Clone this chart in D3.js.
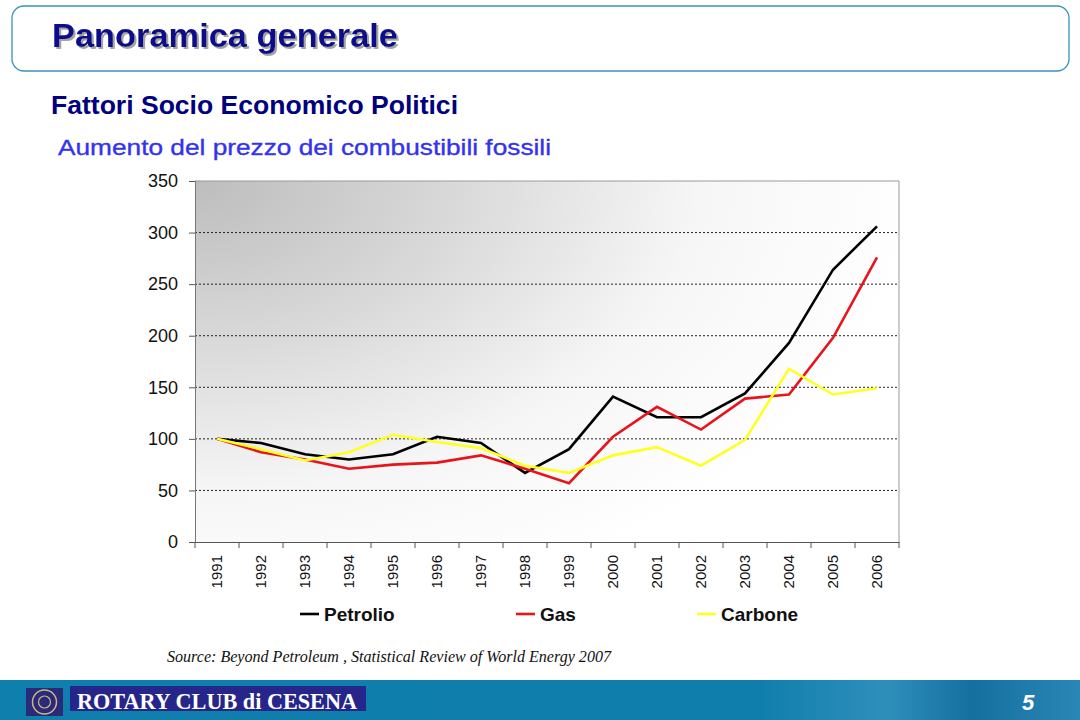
<!DOCTYPE html>
<html><head><meta charset="utf-8">
<script src="https://cdn.jsdelivr.net/npm/d3@7"></script>
<style>html,body{margin:0;padding:0;background:#fff;}svg{display:block;}</style>
</head><body>
<svg id="c" width="1080" height="720"></svg>
<script>
const years = ["1991","1992","1993","1994","1995","1996","1997","1998","1999","2000","2001","2002","2003","2004","2005","2006"];
const petrolio = [100, 96, 85, 80, 85, 102, 96, 67, 90, 141, 121, 121, 144, 193, 264, 306];
const gas      = [100, 87, 80, 71, 75, 77, 84, 71, 57, 102, 131, 109, 139, 143, 198, 276];
const carbone  = [100, 90, 79, 87, 104, 97, 91, 74, 67, 84, 92, 74, 99, 168, 143, 149];
const yTicks = [0, 50, 100, 150, 200, 250, 300, 350];
const seriesNames = ["Petrolio", "Gas", "Carbone"];
const seriesColors = ["#000000", "#e8141c", "#ffff22"];

const svg = d3.select("#c");
const defs = svg.append("defs");
const SANS = "Liberation Sans, Arial, sans-serif";

// header box
svg.append("rect").attr("x",12).attr("y",6).attr("width",1057).attr("height",65)
  .attr("rx",12).attr("fill","#fff").attr("stroke","#3a93b8").attr("stroke-width",1.3);
const f = defs.append("filter").attr("id","sh").attr("x","-5%").attr("y","-20%").attr("width","110%").attr("height","150%");
f.append("feDropShadow").attr("dx",2).attr("dy",2).attr("stdDeviation",0.6).attr("flood-color","#9a9a9a").attr("flood-opacity",0.9);
svg.append("text").attr("x",52).attr("y",47).attr("font-family",SANS)
  .attr("font-weight","bold").attr("font-size",33).attr("fill","#0a0a8a").attr("filter","url(#sh)")
  .attr("textLength",346).attr("lengthAdjust","spacingAndGlyphs")
  .text("Panoramica generale");
svg.append("text").attr("x",51).attr("y",114).attr("font-family",SANS)
  .attr("font-weight","bold").attr("font-size",25).attr("fill","#000080")
  .attr("textLength",407).attr("lengthAdjust","spacingAndGlyphs")
  .text("Fattori Socio Economico Politici");
svg.append("text").attr("x",58).attr("y",155).attr("font-family",SANS)
  .attr("font-size",22).attr("fill","#3333ee").attr("stroke","#3333ee").attr("stroke-width",0.35)
  .attr("textLength",493).attr("lengthAdjust","spacingAndGlyphs")
  .text("Aumento del prezzo dei combustibili fossili");

// chart
const L = 195, R = 899, T = 181, B = 542;
const x = d3.scaleBand().domain(years).range([L, R]);
const y = d3.scaleLinear().domain([0, 350]).range([B, T]);

const rg = defs.append("radialGradient").attr("id","bg").attr("gradientUnits","userSpaceOnUse")
  .attr("cx",L).attr("cy",T).attr("r",720).attr("gradientTransform",`translate(${L},${T}) scale(1,0.62) translate(${-L},${-T})`);
rg.append("stop").attr("offset","0").attr("stop-color","#bdbdbd");
rg.append("stop").attr("offset","0.35").attr("stop-color","#d8d8d8");
rg.append("stop").attr("offset","0.7").attr("stop-color","#f6f6f6");
rg.append("stop").attr("offset","1").attr("stop-color","#ffffff");
svg.append("rect").attr("x",L).attr("y",T).attr("width",R-L).attr("height",B-T).attr("fill","url(#bg)");

// gridlines
svg.append("g").selectAll("line").data(yTicks.filter(d=>d>0 && d<350)).join("line")
  .attr("x1",L).attr("x2",R).attr("y1",d=>y(d)).attr("y2",d=>y(d))
  .attr("stroke","#222").attr("stroke-width",1).attr("stroke-dasharray","2,2");
svg.append("path").attr("d",`M${L},${T}H${R}V${B}`).attr("fill","none").attr("stroke","#999").attr("stroke-width",1);

// y axis
const ya = svg.append("g").attr("transform",`translate(${L},0)`)
  .call(d3.axisLeft(y).tickValues(yTicks).tickSize(6).tickPadding(11));
ya.select(".domain").attr("stroke","#777");
ya.selectAll(".tick line").attr("stroke","#555");
ya.selectAll("text").attr("font-family",SANS).attr("font-size",18).attr("fill","#111");

// x axis
const xa = svg.append("g").attr("transform",`translate(0,${B})`)
  .call(d3.axisBottom(x).tickSize(0).tickPadding(0));
xa.select(".domain").attr("stroke","#555");
xa.selectAll(".tick text").attr("transform","rotate(-90)").attr("text-anchor","end")
  .attr("x",-13).attr("y",0).attr("dy","0.35em")
  .attr("font-family",SANS).attr("font-size",15).attr("fill","#111");
const bounds = years.map(d=>x(d)).concat([R]);
xa.append("g").selectAll("line").data(bounds).join("line")
  .attr("x1",d=>d).attr("x2",d=>d).attr("y1",0).attr("y2",6).attr("stroke","#555");

// lines
const line = d3.line().x((d,i)=>x(years[i]) + x.bandwidth()/2).y(d=>y(d));
[petrolio, gas, carbone].forEach((s,k)=>{
  svg.append("path").datum(s).attr("d",line).attr("fill","none")
    .attr("stroke",seriesColors[k]).attr("stroke-width",2.6).attr("stroke-linejoin","miter");
});

// legend
const legX = [300, 516, 697];
seriesNames.forEach((n,k)=>{
  svg.append("line").attr("x1",legX[k]).attr("x2",legX[k]+19).attr("y1",614).attr("y2",614)
    .attr("stroke",seriesColors[k]).attr("stroke-width",2.6);
  svg.append("text").attr("x",legX[k]+24).attr("y",621).attr("font-family",SANS)
    .attr("font-weight","bold").attr("font-size",19).attr("fill","#111").text(n);
});

// source
svg.append("text").attr("x",167).attr("y",662).attr("font-family","Liberation Serif, Times New Roman, serif")
  .attr("font-style","italic").attr("font-size",16).attr("fill","#111").attr("textLength",444).attr("lengthAdjust","spacingAndGlyphs")
  .text("Source: Beyond Petroleum , Statistical Review of World Energy 2007");

// footer
const fg = defs.append("linearGradient").attr("id","ft").attr("x1","0").attr("x2","1");
fg.append("stop").attr("offset","0").attr("stop-color","#0f7fae");
fg.append("stop").attr("offset","0.7").attr("stop-color","#0f7eac");
fg.append("stop").attr("offset","0.82").attr("stop-color","#2f8fbb");
fg.append("stop").attr("offset","0.9").attr("stop-color","#1570a0");
fg.append("stop").attr("offset","1").attr("stop-color","#2a86b4");
svg.append("rect").attr("x",0).attr("y",680).attr("width",1080).attr("height",40).attr("fill","url(#ft)");
svg.append("rect").attr("x",26).attr("y",688).attr("width",37).attr("height",28).attr("fill","#2a2a78");
svg.append("circle").attr("cx",44.5).attr("cy",702).attr("r",12).attr("fill","none").attr("stroke","#c8b888").attr("stroke-width",1.5);
svg.append("circle").attr("cx",44.5).attr("cy",702).attr("r",6).attr("fill","none").attr("stroke","#c8b888").attr("stroke-width",1.2);
svg.append("rect").attr("x",70).attr("y",686).attr("width",296).attr("height",25).attr("fill","#26268a");
svg.append("text").attr("x",77).attr("y",709).attr("font-family","Liberation Serif, Times New Roman, serif")
  .attr("font-weight","bold").attr("font-size",23).attr("fill","#fff").attr("textLength",280).attr("lengthAdjust","spacingAndGlyphs")
  .text("ROTARY CLUB di CESENA");
svg.append("text").attr("x",1022).attr("y",710).attr("font-family",SANS)
  .attr("font-weight","bold").attr("font-style","italic").attr("font-size",22).attr("fill","#fff").text("5");
</script>
</body></html>
